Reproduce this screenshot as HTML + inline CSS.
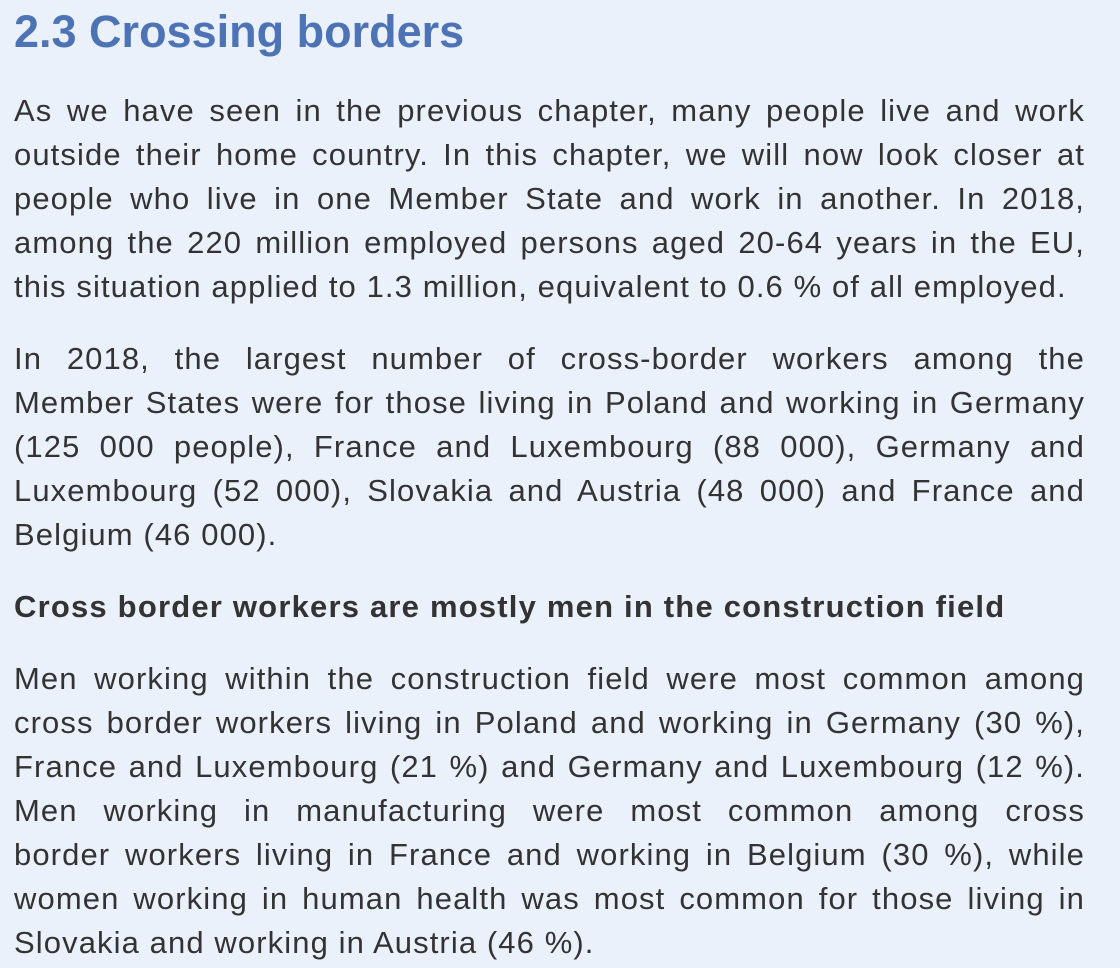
<!DOCTYPE html>
<html><head><meta charset="utf-8"><style>
html,body{margin:0;padding:0;}
body{width:1120px;height:968px;background:#eaf1fb;overflow:hidden;position:relative;font-family:"Liberation Sans",sans-serif;color:#333;}
h1{position:absolute;left:14px;top:6px;margin:0;font-size:45px;line-height:52px;color:#4d73b5;font-weight:bold;}
.p{position:absolute;left:14px;width:1071px;font-size:31px;line-height:44px;letter-spacing:1.1px;}
.l{text-align:justify;text-align-last:justify;white-space:nowrap;}
.l.last{text-align-last:left;}
h2{position:absolute;left:14px;top:585px;margin:0;font-size:31px;line-height:44px;letter-spacing:1.2px;font-weight:bold;color:#333;}
</style></head><body>
<h1>2.3 Crossing borders</h1>
<div class="p" style="top:89px">
<div class="l">As we have seen in the previous chapter, many people live and work</div>
<div class="l">outside their home country. In this chapter, we will now look closer at</div>
<div class="l">people who live in one Member State and work in another. In 2018,</div>
<div class="l">among the 220 million employed persons aged 20-64 years in the EU,</div>
<div class="l last">this situation applied to 1.3 million, equivalent to 0.6 % of all employed.</div>
</div>
<div class="p" style="top:337px">
<div class="l">In 2018, the largest number of cross-border workers among the</div>
<div class="l">Member States were for those living in Poland and working in Germany</div>
<div class="l">(125 000 people), France and Luxembourg (88 000), Germany and</div>
<div class="l">Luxembourg (52 000), Slovakia and Austria (48 000) and France and</div>
<div class="l last">Belgium (46 000).</div>
</div>
<h2>Cross border workers are mostly men in the construction field</h2>
<div class="p" style="top:657px">
<div class="l">Men working within the construction field were most common among</div>
<div class="l">cross border workers living in Poland and working in Germany (30 %),</div>
<div class="l">France and Luxembourg (21 %) and Germany and Luxembourg (12 %).</div>
<div class="l">Men working in manufacturing were most common among cross</div>
<div class="l">border workers living in France and working in Belgium (30 %), while</div>
<div class="l">women working in human health was most common for those living in</div>
<div class="l last">Slovakia and working in Austria (46 %).</div>
</div>
</body></html>
